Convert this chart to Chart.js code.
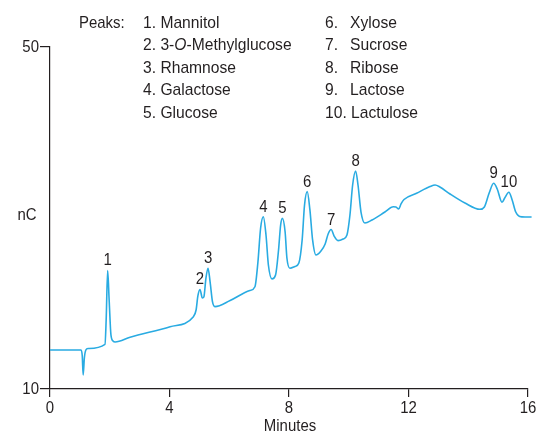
<!DOCTYPE html>
<html>
<head>
<meta charset="utf-8">
<script src="https://cdn.jsdelivr.net/npm/chart.js@4.4.1/dist/chart.umd.min.js"></script>
<style>
  html, body { margin: 0; padding: 0; background: #fff; }
</style>
</head>
<body>
<canvas id="chromChart" width="537" height="435"></canvas>
<script>
// chromatogram trace (minutes, nC)
const minutes = [
  0, 1.04, 1.08, 1.11, 1.15, 1.20, 1.27, 1.84, 1.88, 1.93, 1.98, 2.04, 2.11, 2.18,
  2.68, 4.02, 4.80, 4.89, 4.95, 5.02, 5.10, 5.15, 5.22, 5.29, 5.36, 5.44, 5.52,
  6.03, 6.69, 6.86, 6.96, 7.05, 7.14, 7.23, 7.31, 7.43, 7.55, 7.65, 7.72, 7.78,
  7.87, 7.93, 8.03, 8.20, 8.33, 8.44, 8.52, 8.61, 8.70, 8.79, 8.90, 9.07, 9.21,
  9.31, 9.41, 9.51, 9.64, 9.81, 9.94, 10.04, 10.13, 10.23, 10.31, 10.41, 10.54,
  10.78, 11.21, 11.49, 11.58, 11.67, 11.75, 11.85, 12.27, 12.72, 12.89, 13.05,
  13.39, 13.89, 14.39, 14.54, 14.70, 14.85, 14.97, 15.13, 15.22, 15.36, 15.47,
  15.59, 15.72, 15.90, 16.12
];
const signal = [
  14.56, 14.56, 13.86, 11.64, 13.63, 14.56, 14.74, 15.23, 18.07, 23.86, 20.41, 16.32, 15.61, 15.50,
  16.05, 17.29, 18.46, 19.24, 20.88, 21.64, 20.64, 20.76, 22.98, 24.12, 22.51, 20.18, 19.63,
  20.35, 21.52, 21.96, 24.85, 28.83, 30.15, 28.01, 24.50, 22.87, 23.33, 26.26, 29.18, 29.96,
  28.36, 25.32, 24.12, 24.33, 24.74, 27.43, 31.52, 33.08, 30.94, 27.43, 25.67, 26.14, 26.96,
  28.13, 28.65, 27.89, 27.35, 27.54, 28.01, 30.35, 33.86, 35.50, 33.86, 30.70, 29.42,
  29.77, 30.70, 31.32, 31.29, 31.05, 31.64, 32.16, 32.89, 33.68, 33.86, 33.63,
  32.81, 31.75, 31.02, 31.29, 32.92, 34.06, 33.39, 31.84, 32.34, 33.01, 32.11,
  30.70, 30.18, 30.12, 30.12
];

const xTicks = [0, 4, 8, 12, 16];
const yTicks = [10, 50];

// peaks: number, retention time of the apex, name
const peakNumbers = ['1', '2', '3', '4', '5', '6', '7', '8', '9', '10'];
const peakTimes = [1.93, 5.02, 5.29, 7.14, 7.78, 8.61, 9.41, 10.23, 14.85, 15.36];
const peakNames = ['Mannitol', '3-O-Methylglucose', 'Rhamnose', 'Galactose', 'Glucose',
  'Xylose', 'Sucrose', 'Ribose', 'Lactose', 'Lactulose'];

const FONT = '"Liberation Sans", Arial, sans-serif';
const ink = '#231f20';
const traceColor = '#29abe2';

// text squeezed horizontally (fake condensed face), returns drawn width
function txt(ctx, s, x, y, align, sq) {
  sq = sq || 0.88;
  const w = ctx.measureText(s).width * sq;
  let left = x;
  if (align === 'center') left = x - w / 2;
  if (align === 'right') left = x - w;
  ctx.save();
  ctx.translate(left, y);
  ctx.scale(sq, 1);
  ctx.textAlign = 'left';
  ctx.fillText(s, 0, 0);
  ctx.restore();
  return w;
}

// draws name, with the O of 3-O- in italics
function drawName(ctx, name, x, y, size) {
  const parts = name.indexOf('-O-') >= 0
    ? [[name.split('-O-')[0] + '-', false], ['O', true], ['-' + name.split('-O-')[1], false]]
    : [[name, false]];
  parts.forEach(p => {
    ctx.font = (p[1] ? 'italic ' : '') + size + 'px ' + FONT;
    x += txt(ctx, p[0], x, y, 'left', 0.92);
  });
}

const annotations = {
  id: 'annotations',
  afterDatasetsDraw(chart) {
    const ctx = chart.ctx;
    const xs = chart.scales.x, ys = chart.scales.y;
    ctx.save();
    ctx.fillStyle = ink;
    ctx.font = '17px ' + FONT;

    // tick labels
    ctx.textBaseline = 'top';
    xTicks.forEach(v => txt(ctx, String(v), xs.getPixelForValue(v), ys.bottom + 11, 'center'));
    ctx.textBaseline = 'middle';
    yTicks.forEach(v => txt(ctx, String(v), xs.left - 11, ys.getPixelForValue(v), 'right'));

    // axis titles
    txt(ctx, 'nC', 27, (ys.top + ys.bottom) / 2 - 3, 'center');
    txt(ctx, 'Minutes', (xs.left + xs.right) / 2 + 1, 426, 'center');

    // peak numbers above each apex
    ctx.textBaseline = 'alphabetic';
    peakTimes.forEach((t, i) => {
      const k = minutes.indexOf(t);
      txt(ctx, peakNumbers[i], xs.getPixelForValue(t), ys.getPixelForValue(signal[k]) - 5, 'center');
    });

    // peak list
    ctx.textBaseline = 'middle';
    txt(ctx, 'Peaks:', 79, 23, 'left', 0.88);
    peakNames.forEach((name, i) => {
      const row = i % 5;
      const y = 23 + row * 22.5;
      ctx.font = '17px ' + FONT;
      if (i < 5) {
        const w = txt(ctx, peakNumbers[i] + '. ', 143, y, 'left', 0.92);
        drawName(ctx, name, 143 + w, y, 17);
      } else {
        const w = txt(ctx, peakNumbers[i] + '. ', 325, y, 'left', 0.92);
        drawName(ctx, name, i === 9 ? 325 + w : 350, y, 17);
      }
    });
    ctx.restore();
  }
};

const chromChart = new Chart(document.getElementById('chromChart'), {
  type: 'line',
  data: {
    datasets: [{
      data: minutes.map((m, i) => ({ x: m, y: signal[i] })),
      borderColor: traceColor,
      borderWidth: 1.6,
      pointRadius: 0,
      cubicInterpolationMode: 'monotone',
      clip: false
    }]
  },
  options: {
    responsive: false,
    animation: false,
    devicePixelRatio: 1,
    layout: { padding: { top: 47, right: 9, left: 0, bottom: 0 } },
    plugins: { legend: { display: false }, tooltip: { enabled: false } },
    scales: {
      x: {
        type: 'linear',
        min: 0,
        max: 16,
        afterBuildTicks: s => { s.ticks = xTicks.map(v => ({ value: v })); },
        afterFit: s => { s.height = 46; },
        grid: { drawOnChartArea: false, tickLength: 8, color: ink, lineWidth: 1.2 },
        border: { color: ink, width: 1.2 },
        ticks: { display: false }
      },
      y: {
        min: 10,
        max: 50,
        afterBuildTicks: s => { s.ticks = yTicks.map(v => ({ value: v })); },
        afterFit: s => { s.width = 50; },
        grid: { drawOnChartArea: false, tickLength: 10, color: ink, lineWidth: 1.2 },
        border: { color: ink, width: 1.2 },
        ticks: { display: false }
      }
    }
  },
  plugins: [annotations]
});
</script>
</body>
</html>
